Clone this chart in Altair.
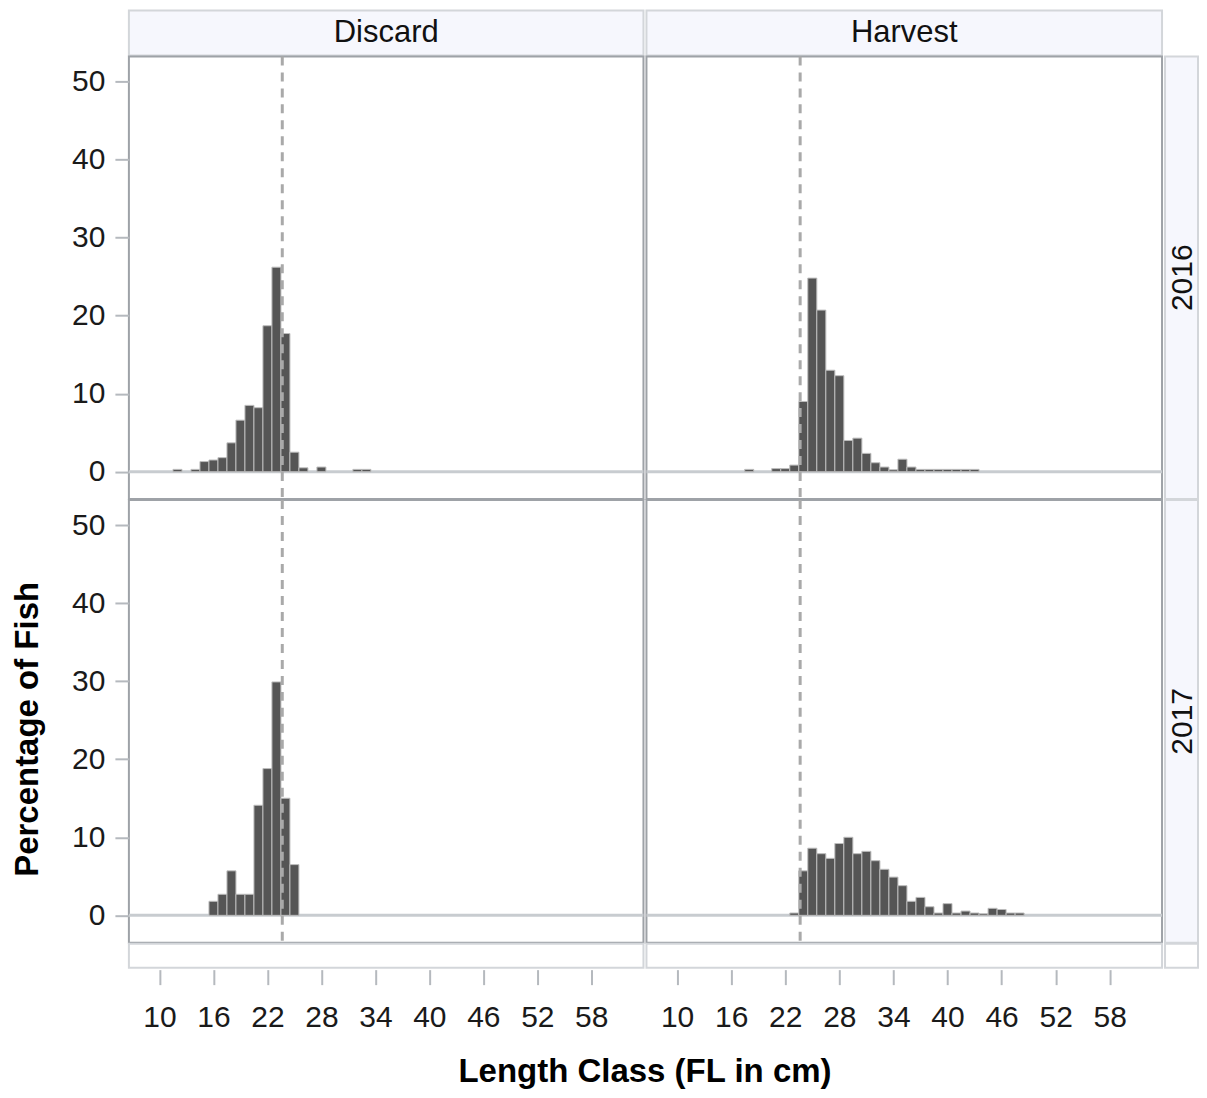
import altair as alt
import pandas as pd

# ---- data ----
lengths_d16 = [12, 14, 15, 16, 17, 18, 19, 20, 21, 22, 23, 24, 25, 26, 28, 32, 33]
pct_d16 = [0.3, 0.3, 1.3, 1.5, 1.8, 3.7, 6.6, 8.5, 8.2, 18.7, 26.2, 17.7, 2.5, 0.5, 0.6, 0.3, 0.3]

lengths_h16 = [18, 21, 22, 23, 24, 25, 26, 27, 28, 29, 30, 31, 32, 33, 34, 35, 36,
               37, 38, 39, 40, 41, 42, 43]
pct_h16 = [0.3, 0.4, 0.4, 0.85, 9.0, 24.8, 20.7, 13.0, 12.3, 4.0, 4.3, 2.35, 1.15, 0.6,
           0.25, 1.6, 0.6, 0.3, 0.3, 0.3, 0.3, 0.3, 0.3, 0.3]

lengths_d17 = [16, 17, 18, 19, 20, 21, 22, 23, 24, 25]
pct_d17 = [1.8, 2.7, 5.7, 2.7, 2.7, 14.1, 18.8, 29.9, 15.0, 6.5]

lengths_h17 = [23, 24, 25, 26, 27, 28, 29, 30, 31, 32, 33, 34, 35, 36, 37, 38, 39, 40,
               41, 42, 43, 44, 45, 46, 47, 48]
pct_h17 = [0.3, 5.7, 8.6, 7.9, 7.3, 9.2, 10.0, 7.9, 8.2, 7.0, 5.9, 4.9, 3.8, 1.8, 2.3,
           1.1, 0.3, 1.5, 0.3, 0.55, 0.3, 0.2, 0.9, 0.75, 0.3, 0.3]

min_size = [23.65]
x_ticks = [10, 16, 22, 28, 34, 40, 46, 52, 58]
y_ticks = [0, 10, 20, 30, 40, 50]
col_labels = ["Discard", "Harvest"]
row_labels = ["2016", "2017"]
x_title = "Length Class (FL in cm)"
y_title = "Percentage of Fish"

# ---- style ----
FONT = "Liberation Sans"
XDOM = [6.6, 63.8]
YDOM = [-3.5, 53.2]
W_L, W_R, PH = 515, 516, 443
HH, SW, BH = 45, 33, 24
PANEL_VIEW = alt.ViewBackground(fill="white", stroke="#9EA2A7", strokeWidth=2)
STRIP_VIEW = alt.ViewBackground(fill="#F6F7FD", stroke="#D3D6DA", strokeWidth=2)
EMPTY_VIEW = alt.ViewBackground(fill="white", stroke="white", strokeOpacity=0)
BOX_VIEW = alt.ViewBackground(fill="white", stroke="#D3D6DA", strokeWidth=2)

xscale = alt.Scale(domain=XDOM, nice=False, zero=False)
yscale = alt.Scale(domain=YDOM, nice=False, zero=False)


def y_axis(title):
    kw = dict(values=y_ticks, grid=False, domain=False, tickColor="#B5B9BE", tickWidth=2,
              tickSize=14, labelPadding=10, labelFont=FONT, labelFontSize=30,
              labelColor="#1a1a1a")
    if title:
        kw.update(title=title, titleFont=FONT, titleFontSize=33, titleFontWeight="bold",
                  titleColor="#000000", titlePadding=27, titleY=229)
    else:
        kw.update(title=None)
    return alt.Axis(**kw)


def panel(lengths, pcts, width, left_axis, title=None):
    yax = y_axis(title) if left_axis else None
    df = pd.DataFrame({"len": lengths, "pct": pcts})
    zero = alt.Chart(pd.DataFrame({"v": [0]})).mark_rule(
        color="#C8CCD0", strokeWidth=3
    ).encode(y=alt.Y("v:Q", scale=yscale, axis=yax))
    bars = alt.Chart(df).transform_calculate(
        lo="datum.len - 0.5", hi="datum.len + 0.5"
    ).mark_rect(color="#555555", stroke="#BDBDBD", strokeWidth=1).encode(
        x=alt.X("lo:Q", scale=xscale, axis=None),
        x2="hi:Q",
        y=alt.Y("pct:Q", scale=yscale, axis=yax),
        y2=alt.datum(0),
    )
    ref = alt.Chart(pd.DataFrame({"m": min_size})).mark_rule(
        color="#A9A9A9", strokeWidth=3, strokeDash=[9, 7]
    ).encode(x=alt.X("m:Q", scale=xscale, axis=None))
    return alt.layer(zero, bars, ref).properties(width=width, height=PH, view=PANEL_VIEW)


def col_header(label, width):
    return alt.Chart(pd.DataFrame({"t": [label]})).mark_text(
        font=FONT, fontSize=31, color="#111111"
    ).encode(text="t:N", x=alt.value(width / 2), y=alt.value(HH / 2)).properties(
        width=width, height=HH, view=STRIP_VIEW)


def row_header(label):
    return alt.Chart(pd.DataFrame({"t": [label]})).mark_text(
        font=FONT, fontSize=30, color="#111111", angle=270
    ).encode(text="t:N", x=alt.value(SW / 2 + 1), y=alt.value(PH / 2)).properties(
        width=SW, height=PH, view=STRIP_VIEW)


def bottom_strip(width, with_title):
    ax = alt.Axis(values=x_ticks, grid=False, domain=False, tickColor="#B5B9BE",
                  tickWidth=2, tickSize=15, offset=2, labelPadding=18, labelFont=FONT,
                  labelFontSize=30, labelColor="#1a1a1a", labelFlush=False,
                  labelOverlap=False, title=None)
    base = alt.Chart(pd.DataFrame({"t": x_ticks})).mark_tick(opacity=0).encode(
        x=alt.X("t:Q", scale=xscale, axis=ax))
    layers = [base]
    if with_title:
        layers.append(
            alt.Chart(pd.DataFrame({"t": [x_title]})).mark_text(
                font=FONT, fontSize=33, fontWeight="bold", color="#000000"
            ).encode(text="t:N", x=alt.value(W_L + 1.5), y=alt.value(128))
        )
    return alt.layer(*layers).properties(width=width, height=BH, view=BOX_VIEW)


empty = alt.Chart(pd.DataFrame({"t": [""]})).mark_text().encode(text="t:N").properties(
    width=SW, height=HH, view=EMPTY_VIEW)
corner = alt.Chart(pd.DataFrame({"t": [""]})).mark_text().encode(text="t:N").properties(
    width=SW, height=BH, view=BOX_VIEW)

chart = alt.concat(
    col_header(col_labels[0], W_L), col_header(col_labels[1], W_R), empty,
    panel(lengths_d16, pct_d16, W_L, True), panel(lengths_h16, pct_h16, W_R, False),
    row_header(row_labels[0]),
    panel(lengths_d17, pct_d17, W_L, True, y_title), panel(lengths_h17, pct_h17, W_R, False),
    row_header(row_labels[1]),
    bottom_strip(W_L, True), bottom_strip(W_R, False), corner,
    columns=3, spacing={"row": 1, "column": 3}, bounds="flush",
).properties(
    padding={"left": 2, "top": 1, "right": 0, "bottom": 0}, background="white"
).resolve_scale(x="independent", y="independent")

chart.save("out.html", embed_options={"renderer": "svg", "actions": False})
